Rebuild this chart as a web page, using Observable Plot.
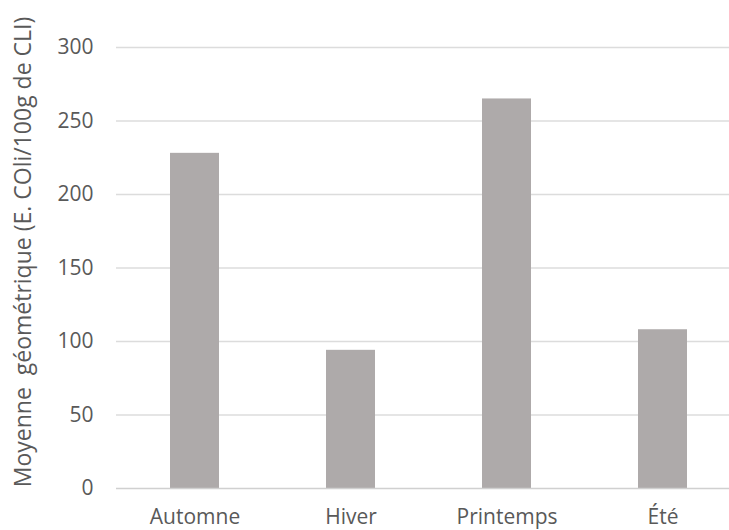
<!DOCTYPE html>
<html>
<head>
<meta charset="utf-8">
<script src="https://cdn.jsdelivr.net/npm/d3@7"></script>
<script src="https://cdn.jsdelivr.net/npm/@observablehq/plot@0.6"></script>
<style>
  html, body { margin: 0; padding: 0; background: #fff; overflow: hidden; }
  #chart svg { display: block; }
</style>
</head>
<body>
<div id="chart"></div>
<script>
const seasons = ["Automne", "Hiver", "Printemps", "Été"];
const means = [228, 94, 265, 108];
const yTicks = [0, 50, 100, 150, 200, 250, 300];
const yTitle = "Moyenne  géométrique (E. COli/100g de CLI)";

const data = seasons.map((s, i) => ({season: s, value: means[i]}));

const font = "'Open Sans', sans-serif";
const textColor = "#595959";

const chart = Plot.plot({
  width: 729,
  height: 530,
  marginLeft: 116,
  marginRight: 0,
  marginTop: 47,
  marginBottom: 42,
  style: {fontFamily: font, fontSize: "21px", color: textColor, background: "#fff"},
  x: {domain: seasons, range: [116, 740], paddingInner: 0.686, paddingOuter: 0.343},
  y: {domain: [0, 300]},
  marks: [
    Plot.gridY(yTicks.filter(d => d > 0), {stroke: "#dcdcdc", strokeOpacity: 1, strokeWidth: 1.5}),
    Plot.barY(data, {x: "season", y: "value", fill: "#aeaaaa"}),
    Plot.ruleY([0], {stroke: "#d0d0d0", strokeWidth: 1.5}),
    Plot.axisY({ticks: yTicks, tickSize: 0, tickPadding: 23, label: null, fill: textColor, fontSize: 21}),
    Plot.axisX({tickSize: 0, tickPadding: 21, label: null, fill: textColor, fontSize: 21}),
    Plot.text([yTitle], {frameAnchor: "left", rotate: -90, dx: -93, dy: -16, fill: textColor, fontSize: 23, textAnchor: "middle", lineAnchor: "middle"})
  ]
});
document.getElementById("chart").appendChild(chart);
</script>
</body>
</html>
